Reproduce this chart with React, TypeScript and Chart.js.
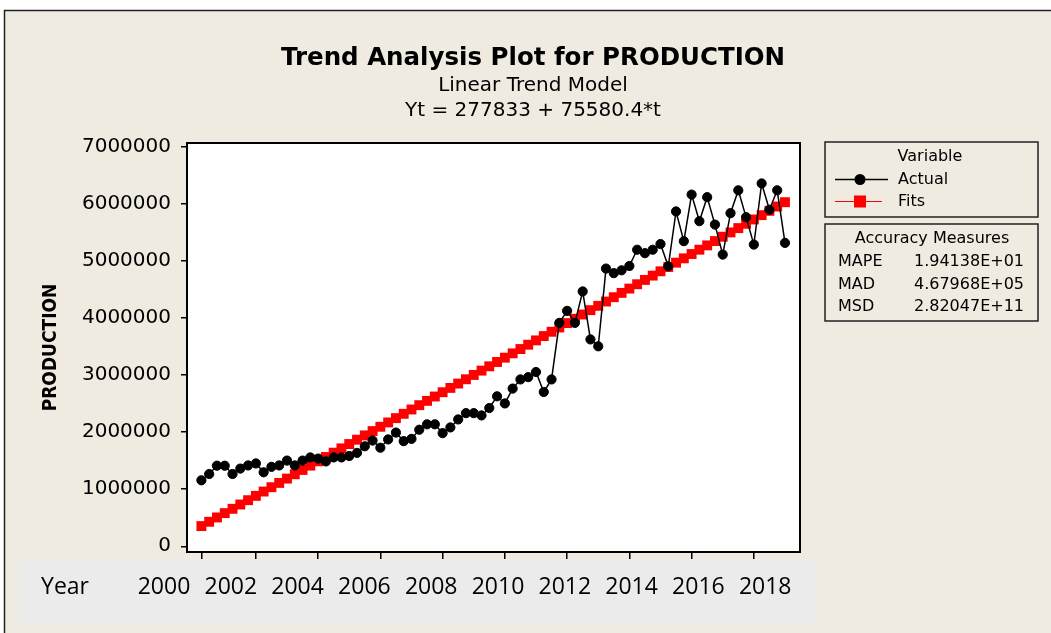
import React, { useEffect, useRef } from 'react';
import { Chart, registerables } from 'chart.js';

Chart.register(...registerables);

// ---- data (quarterly observations, t = 1..76) ----
const actualValues = [
  1155000, 1265000, 1410000, 1410000, 1265000, 1360000, 1415000, 1450000,
  1295000, 1390000, 1415000, 1500000, 1415000, 1500000, 1555000, 1535000,
  1485000, 1555000, 1555000, 1580000, 1635000, 1750000, 1850000, 1725000,
  1870000, 1990000, 1840000, 1880000, 2040000, 2135000, 2135000, 1980000,
  2080000, 2220000, 2330000, 2330000, 2290000, 2420000, 2625000, 2500000,
  2760000, 2920000, 2960000, 3050000, 2700000, 2920000, 3910000, 4120000,
  3910000, 4460000, 3620000, 3500000, 4860000, 4780000, 4830000, 4905000,
  5190000, 5130000, 5190000, 5290000, 4900000, 5860000, 5340000, 6155000,
  5690000, 6110000, 5630000, 5105000, 5830000, 6230000, 5760000, 5280000,
  6350000, 5890000, 6230000, 5310000,
];

const fitValues = [
  353413, 428994, 504574, 580155, 655735, 731315, 806896, 882476,
  958057, 1033637, 1109217, 1184798, 1260378, 1335959, 1411539, 1487119,
  1562700, 1638280, 1713861, 1789441, 1865021, 1940602, 2016182, 2091763,
  2167343, 2242923, 2318504, 2394084, 2469665, 2545245, 2620825, 2696406,
  2771986, 2847567, 2923147, 2998727, 3074308, 3149888, 3225469, 3301049,
  3376629, 3452210, 3527790, 3603371, 3678951, 3754531, 3830112, 3905692,
  3981273, 4056853, 4132433, 4208014, 4283594, 4359175, 4434755, 4510335,
  4585916, 4661496, 4737077, 4812657, 4888237, 4963818, 5039398, 5114979,
  5190559, 5266139, 5341720, 5417300, 5492881, 5568461, 5644041, 5719622,
  5795202, 5870783, 5946363, 6021943,
];

const yTickValues = [0, 1000000, 2000000, 3000000, 4000000, 5000000, 6000000, 7000000];
const xTickIndex = [1, 8, 16, 24, 32, 40, 48, 56, 64, 72];
const yearLabels = ['2000', '2002', '2004', '2006', '2008', '2010', '2012', '2014', '2016', '2018'];
const accuracyNames = ['MAPE', 'MAD', 'MSD'];
const accuracyValues = ['1.94138E+01', '4.67968E+05', '2.82047E+11'];
const titleText = 'Trend Analysis Plot for PRODUCTION';
const subtitleLines = ['Linear Trend Model', 'Yt = 277833 + 75580.4*t'];
const yAxisTitle = 'PRODUCTION';
const rowTitle = 'Year';

const W = 1051;
const H = 633;
const BEIGE = '#EFEBE1';
const BAND = '#EBEBEB';

const decorPlugin = {
  id: 'decor',
  beforeDraw(chart: any) {
    const { ctx, chartArea } = chart;
    ctx.save();
    ctx.fillStyle = '#ffffff';
    ctx.fillRect(0, 0, W, H);
    ctx.fillStyle = BEIGE;
    ctx.fillRect(4, 10, W - 4, H - 10);
    ctx.strokeStyle = '#222';
    ctx.lineWidth = 1.5;
    ctx.beginPath();
    ctx.moveTo(4.5, H);
    ctx.lineTo(4.5, 10.5);
    ctx.lineTo(W, 10.5);
    ctx.stroke();
    // plot area
    ctx.fillStyle = '#ffffff';
    ctx.fillRect(chartArea.left, chartArea.top, chartArea.right - chartArea.left, chartArea.bottom - chartArea.top);
    // year band
    ctx.fillStyle = BAND;
    ctx.fillRect(18, 559, 817 - 18, 623 - 559);
    ctx.restore();
  },
  afterDraw(chart: any) {
    const { ctx, chartArea } = chart;
    ctx.save();
    // plot border
    ctx.strokeStyle = '#000';
    ctx.lineWidth = 2;
    ctx.strokeRect(chartArea.left, chartArea.top, chartArea.right - chartArea.left, chartArea.bottom - chartArea.top);

    // titles
    ctx.fillStyle = '#000';
    ctx.textAlign = 'center';
    ctx.textBaseline = 'alphabetic';
    ctx.font = 'bold 24.5px "DejaVu Sans"';
    ctx.fillText(titleText, 533, 65);
    ctx.font = '20px "DejaVu Sans"';
    ctx.fillText(subtitleLines[0], 533, 91);
    ctx.fillText(subtitleLines[1], 533, 116);

    // year row
    ctx.font = '23px "Open Sans"';
    ctx.textBaseline = 'middle';
    ctx.fillText(rowTitle, 65, 587);
    yearLabels.forEach((lab, i) => {
      ctx.fillText(lab, 164 + i * 66.8, 587);
    });

    // legend box 1
    const ds = chart.data.datasets;
    ctx.strokeStyle = '#222';
    ctx.lineWidth = 1.5;
    ctx.strokeRect(825, 142, 213, 75);
    ctx.font = '16px "DejaVu Sans"';
    ctx.textAlign = 'center';
    ctx.fillText('Variable', 930, 157);
    // Actual
    ctx.strokeStyle = ds[0].borderColor;
    ctx.lineWidth = 1.5;
    ctx.beginPath();
    ctx.moveTo(835, 179.5);
    ctx.lineTo(888, 179.5);
    ctx.stroke();
    ctx.fillStyle = ds[0].pointBackgroundColor;
    ctx.beginPath();
    ctx.arc(860, 179.5, 5.5, 0, Math.PI * 2);
    ctx.fill();
    // Fits
    ctx.strokeStyle = ds[1].borderColor;
    ctx.lineWidth = 1.2;
    ctx.beginPath();
    ctx.moveTo(835, 201.5);
    ctx.lineTo(882, 201.5);
    ctx.stroke();
    ctx.fillStyle = ds[1].pointBackgroundColor;
    ctx.fillRect(854, 195.5, 12, 12);
    ctx.fillStyle = '#000';
    ctx.textAlign = 'left';
    ctx.fillText(ds[0].label, 898, 180);
    ctx.fillText(ds[1].label, 898, 202);

    // legend box 2
    ctx.strokeStyle = '#222';
    ctx.lineWidth = 1.5;
    ctx.strokeRect(825, 224, 213, 97);
    ctx.textAlign = 'center';
    ctx.fillText('Accuracy Measures', 932, 239);
    accuracyNames.forEach((n, i) => {
      const y = 262 + i * 22.5;
      ctx.textAlign = 'left';
      ctx.fillText(n, 838, y);
      ctx.textAlign = 'right';
      ctx.fillText(accuracyValues[i], 1024, y);
    });
    ctx.restore();
  },
};

export default function App() {
  const ref = useRef<HTMLCanvasElement>(null);

  useEffect(() => {
    if (!ref.current) return;
    const chart = new Chart(ref.current, {
      type: 'line',
      data: {
        datasets: [
          {
            label: 'Actual',
            data: actualValues.map((v, i) => ({ x: i + 1, y: v })),
            borderColor: '#000000',
            backgroundColor: '#000000',
            pointBackgroundColor: '#000000',
            pointBorderColor: '#000000',
            borderWidth: 1.5,
            pointRadius: 4.6,
            pointBorderWidth: 1,
            tension: 0,
          },
          {
            label: 'Fits',
            data: fitValues.map((v, i) => ({ x: i + 1, y: v })),
            borderColor: '#FF0000',
            backgroundColor: '#FF0000',
            pointBackgroundColor: '#FF0000',
            pointBorderColor: '#FF0000',
            borderWidth: 1,
            pointStyle: 'rect',
            pointRadius: 7,
            pointBorderWidth: 0,
            tension: 0,
          },
        ],
      },
      options: {
        responsive: false,
        animation: false,
        events: [],
        layout: { padding: { left: 0, top: 143, right: 251, bottom: 71 } },
        plugins: {
          legend: { display: false },
          tooltip: { enabled: false },
          title: { display: false },
        },
        scales: {
          x: {
            type: 'linear',
            min: -0.85,
            max: 77.93,
            afterBuildTicks: (scale: any) => {
              scale.ticks = xTickIndex.map((v) => ({ value: v }));
            },
            afterFit: (scale: any) => {
              scale.height = 10;
            },
            ticks: { display: false },
            grid: { drawOnChartArea: false, tickLength: 7, color: '#000', lineWidth: 1.5 },
            border: { display: false },
          },
          y: {
            type: 'linear',
            min: -100000,
            max: 7058000,
            afterBuildTicks: (scale: any) => {
              scale.ticks = yTickValues.map((v) => ({ value: v }));
            },
            afterFit: (scale: any) => {
              scale.width = 187;
            },
            ticks: {
              callback: (v: any) => String(v),
              font: { family: 'DejaVu Sans', size: 20 },
              color: '#000',
              padding: 10,
            },
            grid: { drawOnChartArea: false, tickLength: 6, color: '#000', lineWidth: 1.5 },
            border: { display: false },
            title: {
              display: true,
              text: yAxisTitle,
              color: '#000',
              font: { family: 'DejaVu Sans Condensed', weight: 'bold', size: 19 },
              padding: { top: 40, bottom: 0 },
            },
          },
        },
      },
      plugins: [decorPlugin],
    });
    return () => chart.destroy();
  }, []);

  return (
    <div style={{ position: 'absolute', left: 0, top: 0, width: W, height: H }}>
      <canvas ref={ref} width={W} height={H} style={{ display: 'block' }} />
    </div>
  );
}
